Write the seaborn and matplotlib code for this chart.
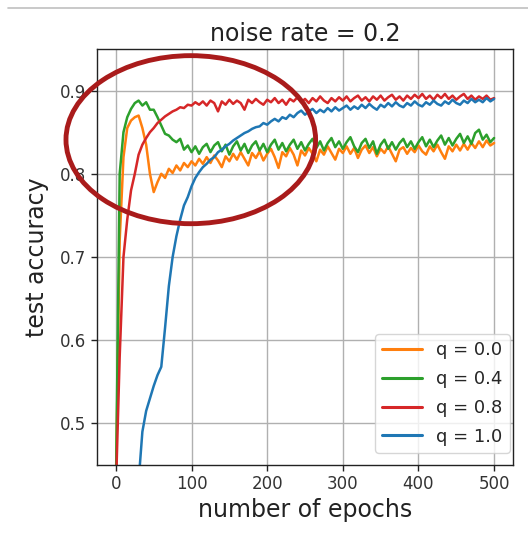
import numpy as np
import pandas as pd
import matplotlib.pyplot as plt
from matplotlib.patches import Ellipse
from matplotlib.lines import Line2D
import seaborn as sns

epochs = list(range(0, 501, 5))

acc_q00 = [0.42, 0.72, 0.82, 0.855, 0.864, 0.868, 0.870, 0.855, 0.835, 0.800,
           0.778, 0.790, 0.800, 0.795, 0.806, 0.801, 0.810, 0.804, 0.813, 0.808,
           0.815, 0.810, 0.818, 0.812, 0.820, 0.813, 0.822, 0.816, 0.808, 0.821,
           0.815, 0.824, 0.817, 0.826, 0.818, 0.810, 0.825, 0.819, 0.827, 0.816,
           0.824, 0.830, 0.820, 0.807, 0.826, 0.821, 0.831, 0.823, 0.810, 0.828,
           0.822, 0.831, 0.824, 0.815, 0.829, 0.823, 0.833, 0.825, 0.817, 0.830,
           0.825, 0.833, 0.824, 0.831, 0.819, 0.829, 0.834, 0.825, 0.832, 0.821,
           0.830, 0.825, 0.833, 0.824, 0.815, 0.829, 0.832, 0.824, 0.831, 0.826,
           0.834, 0.827, 0.823, 0.833, 0.827, 0.835, 0.826, 0.818, 0.833, 0.827,
           0.835, 0.828, 0.836, 0.829, 0.837, 0.831, 0.839, 0.832, 0.840, 0.834,
           0.837]

acc_q04 = [0.42, 0.80, 0.85, 0.868, 0.878, 0.885, 0.888, 0.882, 0.886, 0.877,
           0.877, 0.868, 0.858, 0.848, 0.846, 0.841, 0.838, 0.842, 0.829, 0.834,
           0.826, 0.833, 0.824, 0.832, 0.836, 0.826, 0.834, 0.838, 0.827, 0.835,
           0.823, 0.833, 0.839, 0.828, 0.836, 0.825, 0.834, 0.839, 0.828, 0.836,
           0.826, 0.835, 0.841, 0.829, 0.837, 0.827, 0.835, 0.841, 0.830, 0.838,
           0.828, 0.836, 0.842, 0.831, 0.839, 0.828, 0.837, 0.843, 0.832, 0.839,
           0.830, 0.838, 0.844, 0.833, 0.826, 0.837, 0.842, 0.831, 0.839, 0.824,
           0.835, 0.841, 0.830, 0.838, 0.829, 0.837, 0.842, 0.832, 0.839, 0.830,
           0.838, 0.844, 0.833, 0.841, 0.832, 0.840, 0.846, 0.835, 0.843, 0.834,
           0.842, 0.848, 0.837, 0.845, 0.836, 0.849, 0.853, 0.841, 0.847, 0.838,
           0.843]

acc_q08 = [0.42, 0.58, 0.70, 0.745, 0.780, 0.800, 0.823, 0.835, 0.843, 0.850,
           0.855, 0.861, 0.865, 0.869, 0.872, 0.875, 0.877, 0.880, 0.879, 0.883,
           0.882, 0.886, 0.883, 0.887, 0.882, 0.888, 0.885, 0.875, 0.887, 0.883,
           0.889, 0.884, 0.888, 0.885, 0.877, 0.889, 0.885, 0.890, 0.886, 0.883,
           0.889, 0.886, 0.891, 0.885, 0.889, 0.883, 0.890, 0.887, 0.892, 0.886,
           0.890, 0.885, 0.891, 0.887, 0.893, 0.888, 0.885, 0.891, 0.887, 0.892,
           0.888, 0.893, 0.887, 0.891, 0.894, 0.888, 0.892, 0.887, 0.893, 0.889,
           0.894, 0.888, 0.892, 0.895, 0.889, 0.893, 0.888, 0.894, 0.890, 0.895,
           0.891, 0.896, 0.890, 0.894, 0.889, 0.895, 0.891, 0.896, 0.890, 0.894,
           0.889, 0.893, 0.896, 0.890, 0.894, 0.889, 0.893, 0.890, 0.894, 0.889,
           0.891]

acc_q10 = [0.30, 0.32, 0.34, 0.36, 0.38, 0.40, 0.43, 0.49, 0.515, 0.530,
           0.545, 0.558, 0.568, 0.615, 0.665, 0.700, 0.725, 0.745, 0.762, 0.772,
           0.785, 0.795, 0.802, 0.808, 0.812, 0.817, 0.820, 0.826, 0.829, 0.833,
           0.836, 0.840, 0.843, 0.846, 0.849, 0.851, 0.854, 0.856, 0.857, 0.861,
           0.859, 0.863, 0.866, 0.863, 0.868, 0.866, 0.871, 0.868, 0.873, 0.876,
           0.871, 0.875, 0.878, 0.873, 0.877, 0.874, 0.879, 0.875, 0.880, 0.876,
           0.879, 0.882, 0.877, 0.881, 0.878, 0.883, 0.879, 0.884, 0.880, 0.877,
           0.883, 0.880, 0.885, 0.881, 0.886, 0.882, 0.880, 0.885, 0.882, 0.887,
           0.883, 0.881, 0.886, 0.883, 0.888, 0.884, 0.882, 0.887, 0.884, 0.889,
           0.885, 0.883, 0.888, 0.885, 0.890, 0.886, 0.889, 0.886, 0.891, 0.887,
           0.890]

labels = ['q = 0.0', 'q = 0.4', 'q = 0.8', 'q = 1.0']
colors = ['#ff7f0e', '#2ca02c', '#d62728', '#1f77b4']
series = [acc_q00, acc_q04, acc_q08, acc_q10]

# long format for seaborn
frames = []
for lab, vals in zip(labels, series):
    frames.append(pd.DataFrame({'epoch': epochs, 'acc': vals, 'q': lab}))
df = pd.concat(frames, ignore_index=True)

sns.set_style('whitegrid')
plt.rcParams['font.family'] = ['DejaVu Sans']

fig = plt.figure(figsize=(5.28, 5.36), dpi=100)
ax = fig.add_axes([0.1837, 0.1325, 0.7879, 0.7761])

sns.lineplot(data=df, x='epoch', y='acc', hue='q', hue_order=labels,
             palette=colors, linewidth=1.8, ax=ax)

ax.set_xlim(-25, 525)
ax.set_ylim(0.45, 0.95)
ax.set_xticks([0, 100, 200, 300, 400, 500])
ax.set_yticks([0.5, 0.6, 0.7, 0.8, 0.9])
ax.grid(True, color='#b0b0b0', linewidth=1.0)
for s in ax.spines.values():
    s.set_color('#222222')
    s.set_linewidth(1.0)
ax.tick_params(axis='both', which='both', direction='out', length=4, width=1,
               color='#222222', labelsize=12, labelcolor='#333333',
               bottom=True, left=True)

ax.set_xlabel('number of epochs', fontsize=17, color='#222222', labelpad=3)
ax.set_ylabel('test accuracy', fontsize=17, color='#222222', labelpad=8)
ax.set_title('noise rate = 0.2', fontsize=17, color='#222222', pad=6)

leg = ax.legend(loc='lower right', bbox_to_anchor=(0.993, 0.029),
                fontsize=13, frameon=True, handlelength=2.2,
                borderpad=0.4, labelspacing=0.6, handletextpad=0.8,
                borderaxespad=0.0)
leg.get_frame().set_edgecolor('#cccccc')
for h in leg.get_lines():
    h.set_linewidth(2.2)

# red highlighting ellipse
ell = Ellipse((99, 0.841), 330, 0.202, fill=False, edgecolor='#a91b1b',
              linewidth=3.5, clip_on=False, zorder=5)
ax.add_patch(ell)

# thin separator line at the top of the screenshot
fig.add_artist(Line2D([0.015, 1.0], [0.986, 0.986], color='#c0c0c0',
                      linewidth=1.2, transform=fig.transFigure))

plt.savefig('out.png', dpi=100)
